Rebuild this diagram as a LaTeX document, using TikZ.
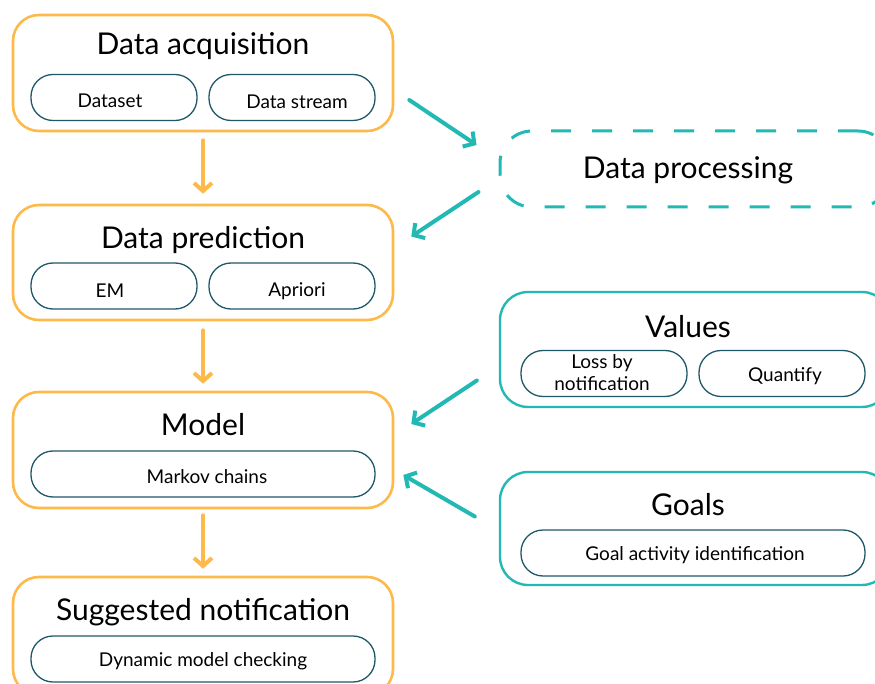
\documentclass[tikz,border=0pt]{standalone}
\usepackage{fontspec}
\setmainfont{Lato}
\usetikzlibrary{arrows.meta,calc}
\definecolor{orng}{HTML}{FDB94A}
\definecolor{teal1}{HTML}{22B8B4}
\definecolor{dteal}{HTML}{1F5868}
\tikzset{
  obox/.style={draw=orng,line width=2.6pt,rounded corners=26pt,minimum width=380pt,inner sep=0pt},
  tbox/.style={draw=teal1,line width=2.4pt,rounded corners=28pt,minimum width=390pt,inner sep=0pt},
  pill/.style={draw=dteal,line width=1.3pt,rounded corners=22pt,minimum height=46pt,inner sep=0pt,font=\fontsize{19}{21}\selectfont,align=center},
  ptxt/.style={font=\fontsize{19}{21}\selectfont,inner sep=0pt,align=center},
  title/.style={font=\fontsize{30}{34}\selectfont,inner sep=0pt},
  oarr/.style={draw=orng,line width=4pt,line cap=round,-{Straight Barb[length=8pt,width=18pt,line cap=butt]}},
  tarr/.style={draw=teal1,line width=4pt,line cap=round,-{Straight Barb[length=8pt,width=18pt,line cap=butt]}}
}
\begin{document}
\begin{tikzpicture}[x=1pt,y=-1pt]
\useasboundingbox (0,0) rectangle (875,684);
\clip (0,0) rectangle (875,684);
% left column
\node[obox,minimum height=116pt] (acq) at (203,73) {};
\node[title] (acqt) at (203,46) {Data acquisition};
\node[pill,minimum width=166pt] (ds) at (114,97.5) {};
\node[ptxt] (dsl) at (110,101) {Dataset};
\node[pill,minimum width=166pt] (dst) at (292,97.5) {};
\node[ptxt] (dstl) at (297,102) {Data stream};

\node[obox,minimum height=115pt] (pred) at (203,262.5) {};
\node[title] (predt) at (203,240) {Data prediction};
\node[pill,minimum width=166pt] (em) at (114,286) {};
\node[ptxt] (eml) at (110,291) {EM};
\node[pill,minimum width=166pt] (apr) at (292,286) {};
\node[ptxt] (aprl) at (297,291) {Apriori};

\node[obox,minimum height=116pt] (model) at (203,450) {};
\node[title] (modelt) at (203,425) {Model};
\node[pill,minimum width=344pt] (mc) at (203,474) {};
\node[ptxt] (mcl) at (207,477) {Markov chains};

\node[obox,minimum height=118pt] (sugg) at (203,636) {};
\node[title] (suggt) at (203,612) {Suggested notification};
\node[pill,minimum width=344pt] (dmc) at (203,659) {};
\node[ptxt] (dmcl) at (203,661) {Dynamic model checking};

% right column
\node[tbox,dashed,dash pattern=on 20pt off 21pt,line width=3pt,minimum height=76pt,rounded corners=32pt] (proc) at (695,169) {};
\node[title] (proct) at (688,170) {Data processing};

\node[tbox,minimum height=115pt] (val) at (695,349.5) {};
\node[title] (valt) at (688,327) {Values};
\node[pill,minimum width=166pt] (loss) at (604,373.5) {};
\node[ptxt] (lossl) at (602,373) {Loss by\\[1pt]notification};
\node[pill,minimum width=166pt] (quant) at (782,373.5) {};
\node[ptxt] (quantl) at (785,376) {Quantify};

\node[tbox,minimum height=113pt] (goals) at (695,528.5) {};
\node[title] (goalst) at (688,505) {Goals};
\node[pill,minimum width=344pt] (gai) at (693,553) {};
\node[ptxt] (gail) at (695,555) {Goal activity identification};

% orange arrows
\draw[oarr,shorten <=8pt,shorten >=10pt] (acq.south) -- (pred.north);
\draw[oarr,shorten <=9pt,shorten >=7pt] (pred.south) -- (model.north);
\draw[oarr,shorten <=6pt,shorten >=7pt] (model.south) -- (sugg.north);

% teal arrows
\draw[tarr] ($(acq.east)+(15,27)$) -- ($(proc.west)+(-22,-24)$);
\draw[tarr] ($(proc.west)+(-20,23)$) -- ($(pred.east)+(17,-26)$);
\draw[tarr] ($(val.west)+(-22,31)$) -- ($(model.east)+(17,-26)$);
\draw[tarr] ($(goals.west)+(-24,-12)$) -- ($(model.east)+(9,25)$);
\end{tikzpicture}
\end{document}
